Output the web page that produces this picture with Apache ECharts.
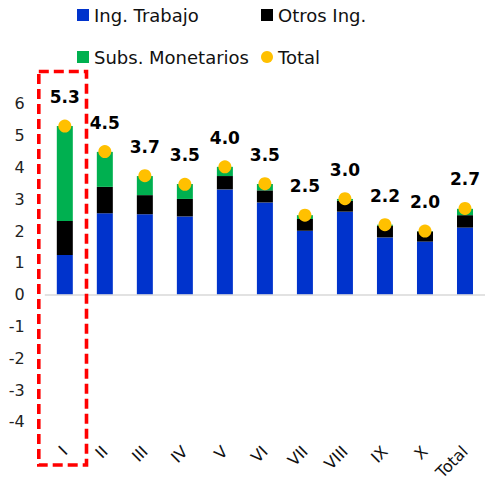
<!DOCTYPE html>
<html>
<head>
<meta charset="utf-8">
<script src="https://cdn.jsdelivr.net/npm/echarts@6/dist/echarts.min.js"></script>
<style>
  html, body { margin: 0; padding: 0; background: #fff; }
  #chart { width: 485px; height: 483px; }
</style>
</head>
<body>
<div id="chart"></div>
<script>
// categorias y valores
var categorias = ['I', 'II', 'III', 'IV', 'V', 'VI', 'VII', 'VIII', 'IX', 'X', 'Total'];
var ingTrabajo = [1.25, 2.56, 2.53, 2.46, 3.31, 2.90, 2.01, 2.61, 1.80, 1.67, 2.11];
var otrosIng   = [1.07, 0.83, 0.60, 0.55, 0.42, 0.38, 0.37, 0.34, 0.37, 0.32, 0.39];
var subsMonet  = [2.98, 1.10, 0.60, 0.47, 0.29, 0.20, 0.12, 0.06, 0.03, 0.01, 0.20];
var total      = [5.3, 4.5, 3.74, 3.47, 4.02, 3.49, 2.5, 3.02, 2.2, 2.0, 2.71];

var fuente = 'DejaVu Sans, sans-serif';
// svg: con canvas el recuadro discontinuo salia continuo
var chart = echarts.init(document.getElementById('chart'), null, { renderer: 'svg' });

function leyenda(nombre, left, top, icono) {
  return {
    data: [nombre],
    left: left,
    top: top,
    icon: icono,
    itemWidth: 12,
    itemHeight: 12,
    padding: 0,
    selectedMode: false,
    textStyle: { fontFamily: fuente, fontSize: 18, color: '#111' }
  };
}

var opt = {
  animation: false,
  legend: [
    leyenda('Ing. Trabajo', 77, 6, 'rect'),
    leyenda('Otros Ing.', 261, 6, 'rect'),
    leyenda('Subs. Monetarios', 77, 48, 'rect'),
    leyenda('Total', 261, 48, 'circle')
  ],
  grid: { left: 44.8, right: -4, top: 72, bottom: 27 },
  xAxis: {
    type: 'category',
    data: categorias,
    axisLine: { show: false },
    axisTick: { show: false },
    axisLabel: {
      rotate: 45,
      margin: -5,
      interval: 0,
      fontFamily: fuente,
      fontSize: 16,
      color: '#111'
    }
  },
  yAxis: {
    type: 'value',
    min: -5,
    max: 7,
    interval: 1,
    splitLine: { show: false },
    axisLine: { show: false },
    axisTick: { show: false },
    axisLabel: {
      margin: 20,
      padding: [5, 0, 0, 0],
      fontFamily: fuente,
      fontSize: 16,
      color: '#222',
      formatter: function (v) { return (v <= -5 || v >= 7) ? '' : v; }
    }
  },
  series: [
    {
      name: 'Ing. Trabajo', type: 'bar', stack: 'a', barWidth: 16,
      itemStyle: { color: '#0033CC' }, data: ingTrabajo,
      markLine: {
        silent: true, symbol: 'none', label: { show: false },
        lineStyle: { color: '#d9d9d9', width: 1.5, type: 'solid' },
        data: [{ yAxis: 0 }]
      }
    },
    {
      name: 'Otros Ing.', type: 'bar', stack: 'a', barWidth: 16,
      itemStyle: { color: '#000000' }, data: otrosIng
    },
    {
      name: 'Subs. Monetarios', type: 'bar', stack: 'a', barWidth: 16,
      itemStyle: { color: '#00B050' }, data: subsMonet
    },
    {
      name: 'Total', type: 'scatter', symbolSize: 13, z: 5,
      itemStyle: { color: '#FFC000', opacity: 1 },
      data: total,
      label: {
        show: true, position: 'top', distance: 14,
        fontFamily: fuente, fontSize: 17, fontWeight: 'bold', color: '#000',
        formatter: function (p) { return p.value.toFixed(1); }
      }
    }
  ],
  graphic: [{
    type: 'rect',
    shape: { x: 38.8, y: 71.5, width: 47.7, height: 393.5 },
    style: { fill: null, stroke: '#FF0000', lineWidth: 3.6, lineDash: [10, 5] },
    z: 10
  }]
};

chart.setOption(opt);
</script>
</body>
</html>
